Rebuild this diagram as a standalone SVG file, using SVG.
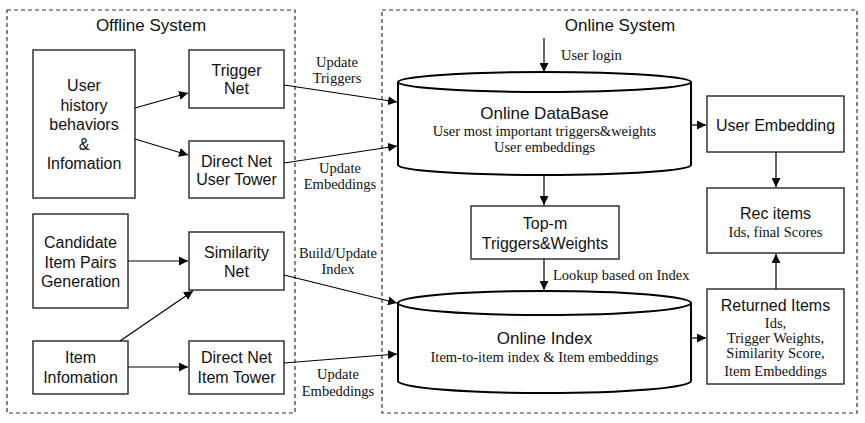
<svg xmlns="http://www.w3.org/2000/svg" width="865" height="423" viewBox="0 0 865 423">
<style>
.frame{fill:none;stroke:#333;stroke-width:1.2;stroke-dasharray:4 3}
.box{fill:#fff;stroke:#333;stroke-width:1.5}
.cyl{fill:#fff;stroke:#000;stroke-width:2}
.s{font-family:"Liberation Sans",Arial,sans-serif;font-size:16px;fill:#111;text-anchor:middle}
.t{font-family:"Liberation Sans",Arial,sans-serif;font-size:17px;fill:#111;text-anchor:middle}
.r{font-family:"Liberation Serif","Times New Roman",serif;font-size:14.5px;fill:#111;text-anchor:middle}
.rl{font-family:"Liberation Serif","Times New Roman",serif;font-size:14.5px;fill:#111}
.c{fill:none;stroke:#000;stroke-width:1.2;marker-end:url(#ah)}
</style>
<defs>
<marker id="ah" viewBox="0 0 10 10" refX="10" refY="5" markerWidth="9" markerHeight="9" markerUnits="userSpaceOnUse" orient="auto">
<path d="M0,0 L10,5 L0,10 z" fill="#000"/>
</marker>
</defs>
<rect width="865" height="423" fill="#fff"/>
<g id="offline-system">
<rect class="frame" x="7" y="10" width="288" height="403"/>
<text class="t" x="151" y="31">Offline System</text>
</g>
<g id="online-system">
<rect class="frame" x="382" y="10" width="475" height="403"/>
<text class="t" x="620" y="31">Online System</text>
</g>
<g id="user-history">
<rect class="box" x="33" y="50" width="102" height="148"/>
<text class="s"><tspan x="84" y="91">User</tspan><tspan x="84" y="111">history</tspan><tspan x="84" y="130">behaviors</tspan><tspan x="84" y="150">&amp;</tspan><tspan x="84" y="169">Infomation</tspan></text>
</g>
<g id="trigger-net">
<rect class="box" x="189" y="50" width="95" height="58"/>
<text class="s"><tspan x="236.5" y="76">Trigger</tspan><tspan x="236.5" y="94">Net</tspan></text>
</g>
<g id="user-tower">
<rect class="box" x="189" y="141" width="95" height="57"/>
<text class="s"><tspan x="236.5" y="167">Direct Net</tspan><tspan x="236.5" y="185">User Tower</tspan></text>
</g>
<g id="candidate">
<rect class="box" x="33" y="214" width="95" height="94"/>
<text class="s"><tspan x="80.5" y="248">Candidate</tspan><tspan x="80.5" y="268">Item Pairs</tspan><tspan x="80.5" y="287">Generation</tspan></text>
</g>
<g id="similarity-net">
<rect class="box" x="189" y="232" width="95" height="58"/>
<text class="s"><tspan x="236.5" y="258">Similarity</tspan><tspan x="236.5" y="277">Net</tspan></text>
</g>
<g id="item-info">
<rect class="box" x="33" y="341" width="95" height="53"/>
<text class="s"><tspan x="80.5" y="363">Item</tspan><tspan x="80.5" y="383">Infomation</tspan></text>
</g>
<g id="item-tower">
<rect class="box" x="189" y="341" width="95" height="53"/>
<text class="s"><tspan x="236.5" y="363">Direct Net</tspan><tspan x="236.5" y="383">Item Tower</tspan></text>
</g>
<g id="online-database">
<path class="cyl" d="M398,82 L398,165 A146.5,10 0 0 0 691,165 L691,82 A146.5,10 0 0 0 398,82 A146.5,10 0 0 0 691,82"/>
<text class="t" x="544.5" y="119">Online DataBase</text>
<text class="r" x="544.5" y="136">User most important triggers&amp;weights</text>
<text class="r" x="544.5" y="152">User embeddings</text>
</g>
<g id="top-m">
<rect class="box" x="471" y="206" width="148" height="53"/>
<text class="s"><tspan x="545" y="229">Top-m</tspan><tspan x="545" y="249">Triggers&amp;Weights</tspan></text>
</g>
<g id="online-index">
<path class="cyl" d="M398,303 L398,381 A146.5,12 0 0 0 691,381 L691,303 A146.5,12 0 0 0 398,303 A146.5,12 0 0 0 691,303"/>
<text class="t" x="544.5" y="344">Online Index</text>
<text class="r" x="544.5" y="362">Item-to-item index &amp; Item embeddings</text>
</g>
<g id="user-embedding">
<rect class="box" x="707" y="96" width="137" height="56"/>
<text class="s" x="775.5" y="131">User Embedding</text>
</g>
<g id="rec-items">
<rect class="box" x="707" y="188" width="137" height="65"/>
<text class="s" x="775.5" y="219">Rec items</text>
<text class="r" x="775.5" y="237">Ids, final Scores</text>
</g>
<g id="returned-items">
<rect class="box" x="707" y="289" width="137" height="95"/>
<text class="s" x="775.5" y="311">Returned Items</text>
<text class="r"><tspan x="775.5" y="328">Ids,</tspan><tspan x="775.5" y="343">Trigger Weights,</tspan><tspan x="775.5" y="358">Similarity Score,</tspan><tspan x="775.5" y="376">Item Embeddings</tspan></text>
</g>
<g id="connectors">
<line class="c" x1="135" y1="108" x2="188" y2="93"/>
<line class="c" x1="135" y1="139" x2="188" y2="155"/>
<line class="c" x1="128" y1="261" x2="188" y2="261"/>
<line class="c" x1="120" y1="341" x2="193" y2="291"/>
<line class="c" x1="128" y1="367" x2="188" y2="367"/>
<line class="c" x1="284" y1="85" x2="397" y2="102"/>
<line class="c" x1="284" y1="163" x2="397" y2="146"/>
<line class="c" x1="284" y1="275" x2="397" y2="303"/>
<line class="c" x1="284" y1="363" x2="397" y2="354"/>
<line class="c" x1="544" y1="38" x2="544" y2="72"/>
<line class="c" x1="544" y1="175" x2="544" y2="205"/>
<line class="c" x1="544" y1="259" x2="544" y2="290"/>
<line class="c" x1="691" y1="125" x2="706" y2="125"/>
<line class="c" x1="691" y1="338" x2="706" y2="338"/>
<line class="c" x1="776" y1="152" x2="776" y2="187"/>
<line class="c" x1="776" y1="289" x2="776" y2="254"/>
<text class="r"><tspan x="337" y="67">Update</tspan><tspan x="337" y="83">Triggers</tspan></text>
<text class="r"><tspan x="340" y="173">Update</tspan><tspan x="340" y="189">Embeddings</tspan></text>
<text class="r"><tspan x="338" y="258">Build/Update</tspan><tspan x="338" y="274">Index</tspan></text>
<text class="r"><tspan x="338" y="379">Update</tspan><tspan x="338" y="396">Embeddings</tspan></text>
<text class="rl" x="561" y="60">User login</text>
<text class="rl" x="553" y="280">Lookup based on Index</text>
</g>
</svg>
